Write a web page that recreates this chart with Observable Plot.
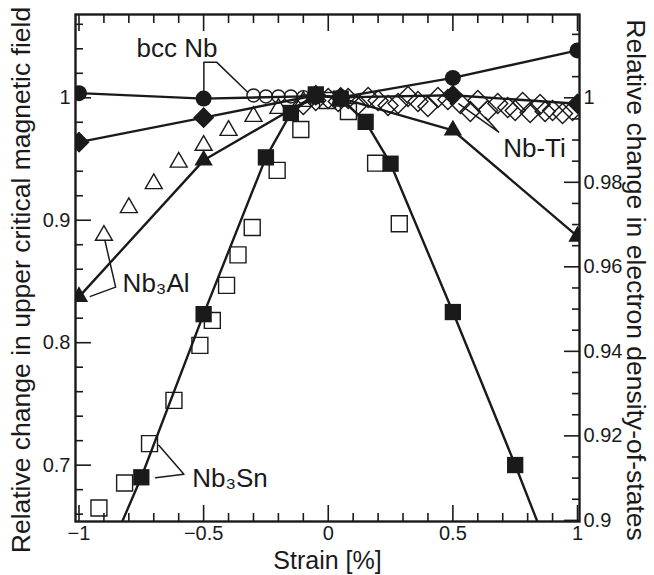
<!DOCTYPE html>
<html>
<head>
<meta charset="utf-8">
<script src="https://cdn.jsdelivr.net/npm/d3@7"></script>
<script src="https://cdn.jsdelivr.net/npm/@observablehq/plot@0.6"></script>
<style>
  html, body { margin: 0; padding: 0; background: #fff; }
</style>
</head>
<body>
<div id="chart"></div>
<script>
// ---------- Data ----------
// Calculated electron density-of-states change (right axis, filled symbols, lines)
const filledStrain = [-1, -0.5, -0.05, 0.05, 0.5, 1];
const bccNbDOS  = [1.0011, 0.9998, 1.0004, 1.0001, 1.0047, 1.0112];
const nbTiDOS   = [0.9895, 0.9953, 1.0006, 1.0001, 1.0006, 0.9986];
const nb3AlDOS  = [0.9529, 0.9852, 1.0006, 0.9999, 0.9923, 0.9672];
const nb3SnStrainDOS = [-1, -0.75, -0.5, -0.25, -0.15, -0.05, 0.05, 0.15, 0.25, 0.5, 0.75, 1];
const nb3SnDOS  = [0.876, 0.9102, 0.9488, 0.9859, 0.9964, 1.0008, 0.9998, 0.9943, 0.9844, 0.9493, 0.9131, 0.8755];

// Measured upper critical field change (left axis, open symbols)
const bccNbStrain = [-0.3, -0.25, -0.2, -0.15, -0.1, -0.05];
const bccNbHc2    = [1.0019, 1.0011, 1.0011, 1.0011, 1.0005, 1.0002];
const nb3AlStrain = [-0.9, -0.8, -0.7, -0.6, -0.5, -0.4, -0.3, -0.2, -0.1];
const nb3AlHc2    = [0.8876, 0.9102, 0.9298, 0.9474, 0.9611, 0.9733, 0.9847, 0.9913, 0.997];
const nb3SnStrain = [-0.92, -0.817, -0.717, -0.619, -0.515, -0.465, -0.408, -0.362, -0.305, -0.205, -0.11, -0.003, 0.081, 0.19, 0.285];
const nb3SnHc2    = [0.665, 0.6854, 0.7176, 0.7529, 0.7978, 0.8182, 0.8468, 0.8717, 0.8941, 0.9407, 0.9741, 0.9978, 0.9888, 0.9466, 0.8971];
const nbTiStrain  = [-0.1, -0.05, 0, 0.04, 0.08, 0.12, 0.16, 0.2, 0.24, 0.28, 0.32, 0.36, 0.4, 0.44, 0.48, 0.53, 0.57, 0.6, 0.64, 0.68, 0.72, 0.75, 0.78, 0.81, 0.85, 0.87, 0.9, 0.94, 0.98];
const nbTiHc2     = [0.9945, 0.9978, 0.9994, 0.997, 0.9994, 0.9945, 1.0002, 0.9978, 0.9937, 0.9953, 1.0011, 0.997, 0.9929, 1.0002, 0.9986, 0.9953, 0.9888, 0.9978, 0.9896, 0.9953, 0.9921, 0.9896, 0.9962, 0.988, 0.9945, 0.9888, 0.9896, 0.9872, 0.9896];

// Axis ticks
const xMajor = [-1, -0.5, 0, 0.5, 1];
const xMinor = [-0.9, -0.8, -0.7, -0.6, -0.4, -0.3, -0.2, -0.1, 0.1, 0.2, 0.3, 0.4, 0.6, 0.7, 0.8, 0.9];
const leftMajor = [0.7, 0.8, 0.9, 1];
const leftMinor = [0.66, 0.68, 0.72, 0.74, 0.76, 0.78, 0.82, 0.84, 0.86, 0.88, 0.92, 0.94, 0.96, 0.98, 1.02, 1.04, 1.06];
const rightMajor = [0.9, 0.92, 0.94, 0.96, 0.98, 1];
const rightMinor = [0.905, 0.91, 0.915, 0.925, 0.93, 0.935, 0.945, 0.95, 0.955, 0.965, 0.97, 0.975, 0.985, 0.99, 0.995, 1.005, 1.01, 1.015];

// Annotation labels (strain, left-axis value) and leader lines
const labelText = ["bcc Nb", "Nb-Ti", "Nb₃Al", "Nb₃Sn"];
const labelX    = [-0.769, 0.702, -0.825, -0.546];
const labelY    = [1.0337, 0.9515, 0.8411, 0.6821];
const leaderName = ["bcc","bcc","bcc","bcc","ti","ti","ti","al","al","al","sn","sn","sn"];
const leaderX    = [-0.499, -0.499, -0.448, -0.324, 0.524, 0.684, 0.631, -0.896, -0.853, -0.954, -0.680, -0.579, -0.693];
const leaderY    = [1.0035, 1.0291, 1.0291, 1.0047, 0.9951, 0.9719, 0.9839, 0.8835, 0.8454, 0.8378, 0.7162, 0.6925, 0.6898];

// ---------- Scales helpers ----------
const K = 3.451;                       // right-axis (DOS) to left-axis (Hc2) ratio, both = 1 at same height
const toL = r => 1 + (r - 1) * K;
const toR = l => 1 + (l - 1) / K;

const ink = "#1a1a1a";
const pts = (xs, ys, f = v => v) => xs.map((x, i) => ({x, y: f(ys[i])}));

const dosSeries = [
  {name: "bcc Nb", symbol: "circle", r: 8, data: pts(filledStrain, bccNbDOS, toL)},
  {name: "Nb-Ti", symbol: "diamond2", r: 9.5, data: pts(filledStrain, nbTiDOS, toL)},
  {name: "Nb3Al", symbol: "triangle", r: 6.8, data: pts(filledStrain, nb3AlDOS, toL)},
  {name: "Nb3Sn", symbol: "square", r: 9.2, data: pts(nb3SnStrainDOS, nb3SnDOS, toL)}
];
const hc2Series = [
  {name: "bcc Nb", symbol: "circle", r: 6.5, data: pts(bccNbStrain, bccNbHc2)},
  {name: "Nb-Ti", symbol: "diamond2", r: 9, data: pts(nbTiStrain, nbTiHc2)},
  {name: "Nb3Al", symbol: "triangle", r: 6.3, data: pts(nb3AlStrain, nb3AlHc2)},
  {name: "Nb3Sn", symbol: "square", r: 9, data: pts(nb3SnStrain, nb3SnHc2)}
];
const labels = labelText.map((t, i) => ({t, x: labelX[i], y: labelY[i]}));
const leaders = leaderX.map((x, i) => ({g: leaderName[i], x, y: leaderY[i]}));

const fmtX = d => d < 0 ? "−" + (-d) : String(d);
const fmtR = d => String(+toR(d).toFixed(3));

const marks = [];
// lines for calculated series
for (const s of dosSeries) {
  marks.push(Plot.line(s.data, {x: "x", y: "y", stroke: ink, strokeWidth: 2.4, clip: true}));
}
// open symbols (measured)
for (const s of hc2Series) {
  marks.push(Plot.dot(s.data, {x: "x", y: "y", symbol: () => s.symbol, r: s.r, fill: "none", stroke: ink, strokeWidth: 1.4, clip: true}));
}
// filled symbols (calculated)
for (const s of dosSeries) {
  marks.push(Plot.dot(s.data, {x: "x", y: "y", symbol: () => s.symbol, r: s.r, fill: ink, stroke: "none", clip: true}));
}
// leader lines and labels
marks.push(Plot.line(leaders, {x: "x", y: "y", z: "g", stroke: ink, strokeWidth: 1.5}));
marks.push(Plot.text(labels, {x: "x", y: "y", text: "t", textAnchor: "start", lineAnchor: "bottom", fontSize: 26, fill: ink}));

// ticks (inward) – bottom, top, left, right
const tickOpts = {tickFormat: () => "", label: null, strokeWidth: 1.6};
marks.push(
  Plot.axisX({anchor: "bottom", ticks: xMajor, tickSize: -16, ...tickOpts}),
  Plot.axisX({anchor: "bottom", ticks: xMinor, tickSize: -8, ...tickOpts}),
  Plot.axisX({anchor: "top", ticks: xMajor, tickSize: -16, ...tickOpts}),
  Plot.axisX({anchor: "top", ticks: xMinor, tickSize: -8, ...tickOpts}),
  Plot.axisY({anchor: "left", ticks: leftMajor, tickSize: -16, ...tickOpts}),
  Plot.axisY({anchor: "left", ticks: leftMinor, tickSize: -8, ...tickOpts}),
  Plot.axisY({anchor: "right", ticks: rightMajor.map(toL), tickSize: -16, ...tickOpts}),
  Plot.axisY({anchor: "right", ticks: rightMinor.map(toL), tickSize: -8, ...tickOpts}),
  // tick labels
  Plot.axisX({anchor: "bottom", ticks: xMajor, tickSize: 0, tickPadding: 4, tickFormat: fmtX, label: null, fontSize: 20}),
  Plot.axisY({anchor: "left", ticks: leftMajor, tickSize: 0, tickPadding: 5, tickFormat: d => String(d), label: null, fontSize: 20}),
  Plot.axisY({anchor: "right", ticks: rightMajor.map(toL), tickSize: 0, tickPadding: 4, tickFormat: fmtR, label: null, fontSize: 20}),
  // axis titles
  Plot.text(["Relative change in upper critical magnetic field"], {frameAnchor: "left", dx: -54, dy: 12, rotate: -90, textAnchor: "middle", lineAnchor: "middle", fontSize: 26.5, fill: ink}),
  Plot.text(["Relative change in electron density-of-states"], {frameAnchor: "right", dx: 56, dy: 12, rotate: 90, textAnchor: "middle", lineAnchor: "middle", fontSize: 26.5, fill: ink}),
  Plot.text(["Strain [%]"], {frameAnchor: "bottom", dy: 39, textAnchor: "middle", lineAnchor: "middle", fontSize: 25, fill: ink}),
  Plot.frame({stroke: ink, strokeWidth: 2.4})
);

const chart = Plot.plot({
  width: 654,
  height: 575,
  marginLeft: 75,
  marginRight: 75,
  marginTop: 14,
  marginBottom: 54,
  style: {fontFamily: "'Liberation Sans', Arial, Helvetica, sans-serif", color: ink, background: "#fff", overflow: "visible"},
  x: {domain: [-1.014, 1.008], axis: null},
  y: {domain: [0.654, 1.068], axis: null},
  marks
});
document.getElementById("chart").appendChild(chart);
</script>
</body>
</html>
